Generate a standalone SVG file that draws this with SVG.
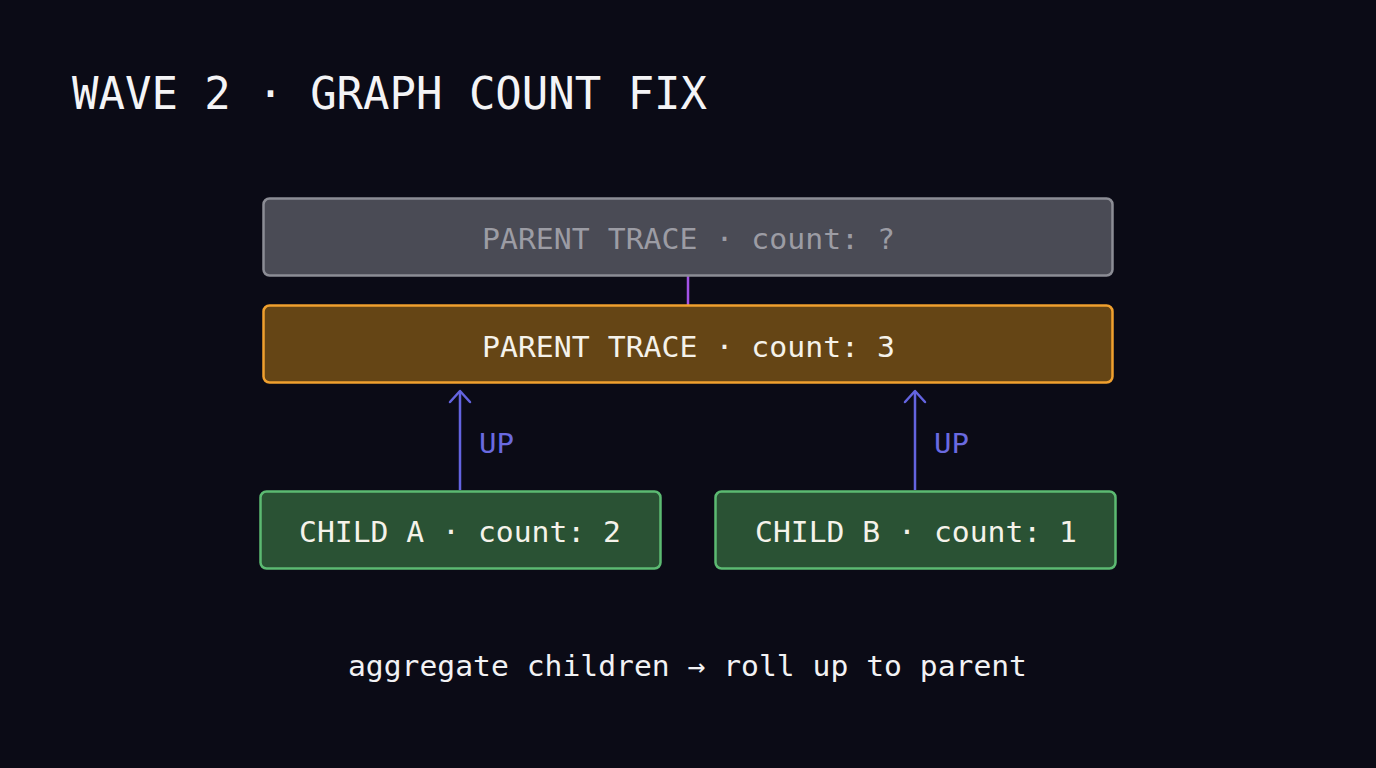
<svg xmlns="http://www.w3.org/2000/svg" width="1376" height="768" viewBox="0 0 1376 768">
<defs>
<style>
.mono{font-family:"DejaVu Sans Mono","Liberation Mono",monospace;}
.title{font-size:44px;fill:#f4f4f6;}
.lbl{font-size:29px;}
.node-text{fill:#f5f2ea;}
.ghost-text{fill:#9c9ca4;}
.up{font-size:27px;fill:#6a6ae0;}
.caption{font-size:29px;fill:#f2f2f4;}
</style>
<marker id="arrow" viewBox="0 0 24 24" refX="22" refY="12" markerWidth="24" markerHeight="24" markerUnits="userSpaceOnUse" orient="auto">
<path d="M11 2 L22 12 L11 22" fill="none" stroke="#6464e0" stroke-width="2.5" stroke-linecap="round" stroke-linejoin="round"/>
</marker>
</defs>
<rect width="1376" height="768" fill="#0b0b16"/>
<text class="mono title" x="72" y="109" textLength="635" lengthAdjust="spacingAndGlyphs">WAVE 2 · GRAPH COUNT FIX</text>

<g id="connectors">
<line x1="688" y1="276" x2="688" y2="305" stroke="#a352e6" stroke-width="2.5"/>
<line x1="460" y1="490" x2="460" y2="391" stroke="#6464e0" stroke-width="2.5" marker-end="url(#arrow)"/>
<line x1="915" y1="490" x2="915" y2="391" stroke="#6464e0" stroke-width="2.5" marker-end="url(#arrow)"/>
<text class="mono up" x="479" y="453" textLength="35" lengthAdjust="spacingAndGlyphs">UP</text>
<text class="mono up" x="934" y="453" textLength="35" lengthAdjust="spacingAndGlyphs">UP</text>
</g>

<g id="parent-old">
<rect x="263.5" y="198.5" width="849" height="77" rx="6" fill="#4a4b55" stroke="#8c8d95" stroke-width="2.5"/>
<text class="mono lbl ghost-text" x="482" y="249" textLength="413" lengthAdjust="spacingAndGlyphs">PARENT TRACE · count: ?</text>
</g>

<g id="parent-new">
<rect x="263.5" y="305.5" width="849" height="77" rx="6" fill="#654515" stroke="#f0a02e" stroke-width="2.5"/>
<text class="mono lbl node-text" x="482" y="357" textLength="413" lengthAdjust="spacingAndGlyphs">PARENT TRACE · count: 3</text>
</g>

<g id="child-a">
<rect x="260.5" y="491.5" width="400" height="77" rx="6" fill="#2a5234" stroke="#5cba72" stroke-width="2.5"/>
<text class="mono lbl node-text" x="299" y="542" textLength="322" lengthAdjust="spacingAndGlyphs">CHILD A · count: 2</text>
</g>

<g id="child-b">
<rect x="715.5" y="491.5" width="400" height="77" rx="6" fill="#2a5234" stroke="#5cba72" stroke-width="2.5"/>
<text class="mono lbl node-text" x="755" y="542" textLength="322" lengthAdjust="spacingAndGlyphs">CHILD B · count: 1</text>
</g>

<text class="mono caption" x="348" y="676" textLength="679" lengthAdjust="spacingAndGlyphs">aggregate children → roll up to parent</text>
</svg>
